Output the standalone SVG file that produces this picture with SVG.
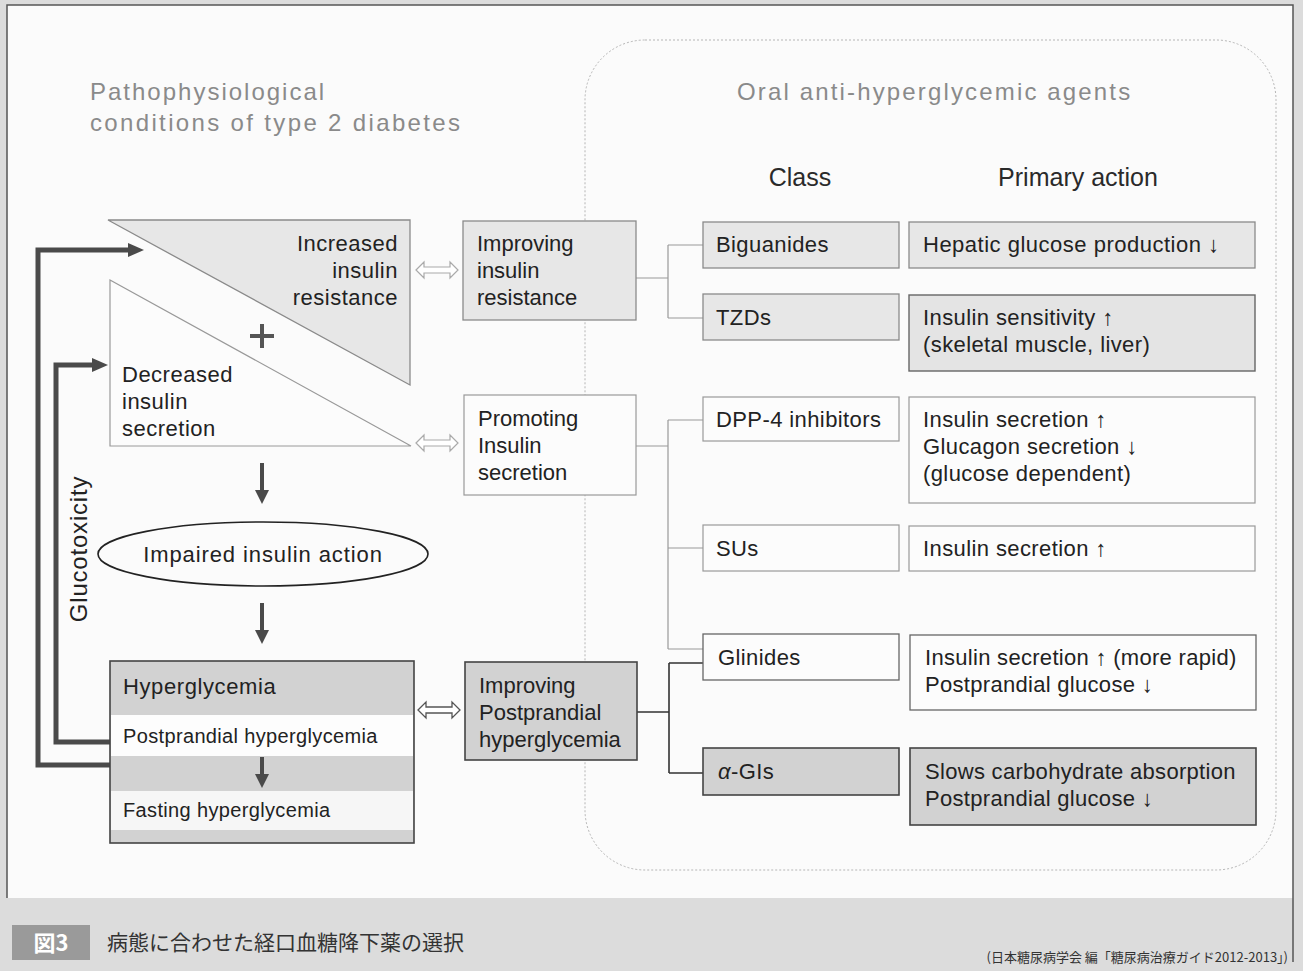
<svg xmlns="http://www.w3.org/2000/svg" width="1303" height="971" viewBox="0 0 1303 971">
<style>
.t{font-family:"Liberation Sans",Arial,sans-serif;fill:#222;font-size:22px}
.tt{font-family:"Liberation Sans",Arial,sans-serif;fill:#8a8a8a;font-size:24px}
.hd{font-family:"Liberation Sans",Arial,sans-serif;fill:#2a2a2a;font-size:25px}
.sm{font-family:"Liberation Sans",Arial,sans-serif;fill:#222;font-size:20px;letter-spacing:0.35px}
.jp{font-family:"Noto Sans CJK JP",sans-serif;fill:#333}
.lite{fill:#e7e7e7;stroke:#8a8a8a;stroke-width:1.3}
.wht{fill:#fcfcfc;stroke:#999;stroke-width:1.2}
.dark{fill:#d2d2d2;stroke:#444;stroke-width:1.6}
.gl{fill:none;stroke:#999;stroke-width:1.2}
.dl{fill:none;stroke:#333;stroke-width:1.6}
.thick{fill:none;stroke:#4a4a4a;stroke-width:5}
.dbl{fill:#fff;stroke:#aaa;stroke-width:1.2}
</style>
<defs>
<marker id="ah" markerUnits="userSpaceOnUse" markerWidth="18" markerHeight="14" refX="2" refY="7" orient="auto">
<path d="M0,0 L16,7 L0,14 Z" fill="#4a4a4a"/>
</marker>
<marker id="ah2" markerUnits="userSpaceOnUse" markerWidth="14" markerHeight="14" refX="2" refY="7" orient="auto">
<path d="M0,0 L14,7 L0,14 Z" fill="#4a4a4a"/>
</marker>
<path id="dbl" d="M0,0 L8,-8 L8,-3 L34,-3 L34,-8 L42,0 L34,8 L34,3 L8,3 L8,8 Z"/>
</defs>

<!-- page -->
<rect x="0" y="0" width="1303" height="971" fill="#dcdcdc"/>
<rect x="7" y="5" width="1286" height="893" fill="#fbfbfb"/>
<path d="M7,898 V5 H1293 V962" fill="none" stroke="#555" stroke-width="1.5"/>

<!-- right panel -->
<rect x="585" y="40" width="691" height="830" rx="60" ry="60" fill="none" stroke="#b5b5b5" stroke-width="1" stroke-dasharray="2 2"/>

<!-- titles -->
<text class="tt" x="90" y="100" style="letter-spacing:2px">Pathophysiological</text>
<text class="tt" x="90" y="131" style="letter-spacing:2.35px">conditions of type 2 diabetes</text>
<text class="tt" x="737" y="100" style="letter-spacing:2.15px">Oral anti-hyperglycemic agents</text>
<text class="hd" x="800" y="186" text-anchor="middle">Class</text>
<text class="hd" x="1078" y="186" text-anchor="middle">Primary action</text>

<!-- connectors -->
<g id="connectors">
<path class="thick" d="M110,765 H38 V250 H130" marker-end="url(#ah)"/>
<path class="thick" d="M110,742 H56 V365 H94" marker-end="url(#ah)"/>
<path d="M262,463 V492" stroke="#4a4a4a" stroke-width="4" marker-end="url(#ah2)"/>
<path d="M262,603 V632" stroke="#4a4a4a" stroke-width="4" marker-end="url(#ah2)"/>
<use href="#dbl" x="416" y="270" class="dbl"/>
<use href="#dbl" x="416" y="443" class="dbl"/>
<use href="#dbl" x="418" y="710" fill="#fff" stroke="#555" stroke-width="1.3"/>
<path class="gl" d="M636,278 H668 M668,245 V318 M668,245 H703 M668,318 H703"/>
<path class="gl" d="M636,446 H668 M668,420 V649 M668,420 H703 M668,548 H703 M668,649 H703"/>
<path class="dl" d="M637,712 H669 M669,663 V773 M669,663 H703 M669,773 H703"/>
</g>

<!-- left nodes -->
<g id="increased-resistance">
<polygon points="108,220 410,220 410,385" class="lite"/>
<text class="t" x="398" y="251" text-anchor="end" style="letter-spacing:0.5px">Increased</text>
<text class="t" x="398" y="278" text-anchor="end" style="letter-spacing:0.5px">insulin</text>
<text class="t" x="398" y="305" text-anchor="end" style="letter-spacing:0.5px">resistance</text>
</g>
<g id="decreased-secretion">
<polygon points="110,280 110,446 411,446" class="wht"/>
<text class="t" x="122" y="382" style="letter-spacing:0.5px">Decreased</text>
<text class="t" x="122" y="409" style="letter-spacing:0.5px">insulin</text>
<text class="t" x="122" y="436" style="letter-spacing:0.5px">secretion</text>
</g>
<g id="plus">
<path d="M250,336 H274 M262,324 V348" stroke="#555" stroke-width="4"/>
</g>
<g id="impaired">
<ellipse cx="263" cy="554" rx="165" ry="32" fill="#fbfbfb" stroke="#222" stroke-width="1.6"/>
<text class="t" x="263" y="562" text-anchor="middle" style="letter-spacing:0.9px">Impaired insulin action</text>
</g>
<g id="glucotoxicity">
<text class="t" transform="translate(87,549) rotate(-90)" text-anchor="middle" style="font-size:24px;letter-spacing:0.8px">Glucotoxicity</text>
</g>
<g id="hyperglycemia">
<rect x="110" y="661" width="304" height="182" class="dark"/>
<rect x="111" y="715" width="302" height="41" fill="#fdfdfd"/>
<rect x="111" y="791" width="302" height="39" fill="#f6f6f6"/>
<text class="t" x="123" y="694" style="letter-spacing:0.6px">Hyperglycemia</text>
<text class="sm" x="123" y="743">Postprandial hyperglycemia</text>
<path d="M262,757 V776" stroke="#4a4a4a" stroke-width="4" marker-end="url(#ah2)"/>
<text class="sm" x="123" y="817">Fasting hyperglycemia</text>
</g>

<!-- middle nodes -->
<g id="improving-resistance">
<rect x="463" y="221" width="173" height="99" class="lite"/>
<text class="t" x="477" y="251">Improving</text>
<text class="t" x="477" y="278">insulin</text>
<text class="t" x="477" y="305">resistance</text>
</g>
<g id="promoting-secretion">
<rect x="464" y="395" width="172" height="100" class="wht"/>
<text class="t" x="478" y="426">Promoting</text>
<text class="t" x="478" y="453">Insulin</text>
<text class="t" x="478" y="480">secretion</text>
</g>
<g id="improving-postprandial">
<rect x="465" y="662" width="172" height="98" class="dark"/>
<text class="t" x="479" y="693">Improving</text>
<text class="t" x="479" y="720">Postprandial</text>
<text class="t" x="479" y="747">hyperglycemia</text>
</g>

<!-- class nodes -->
<g id="biguanides">
<rect x="703" y="222" width="196" height="46" class="lite"/>
<text class="t" x="716" y="252" style="letter-spacing:0.4px">Biguanides</text>
</g>
<g id="tzds">
<rect x="703" y="294" width="196" height="46" class="lite"/>
<text class="t" x="716" y="325" style="letter-spacing:0.4px">TZDs</text>
</g>
<g id="dpp4">
<rect x="703" y="397" width="196" height="44" class="wht"/>
<text class="t" x="716" y="427" style="letter-spacing:0.4px">DPP-4 inhibitors</text>
</g>
<g id="sus">
<rect x="703" y="525" width="196" height="46" class="wht"/>
<text class="t" x="716" y="556" style="letter-spacing:0.4px">SUs</text>
</g>
<g id="glinides">
<rect x="703" y="634" width="196" height="46" fill="#fcfcfc" stroke="#666" stroke-width="1.3"/>
<text class="t" x="718" y="665" style="letter-spacing:0.4px">Glinides</text>
</g>
<g id="agis">
<rect x="703" y="748" width="196" height="47" class="dark"/>
<text class="t" x="718" y="779" style="letter-spacing:0.4px"><tspan font-style="italic">α</tspan>-GIs</text>
</g>

<!-- action nodes -->
<g id="act-biguanides">
<rect x="909" y="222" width="346" height="46" class="lite"/>
<text class="t" x="923" y="252" style="letter-spacing:0.5px">Hepatic glucose production ↓</text>
</g>
<g id="act-tzds">
<rect x="909" y="295" width="346" height="76" fill="#e4e4e4" stroke="#666" stroke-width="1.4"/>
<text class="t" x="923" y="325" style="letter-spacing:0.4px">Insulin sensitivity ↑</text>
<text class="t" x="923" y="352" style="letter-spacing:0.4px">(skeletal muscle, liver)</text>
</g>
<g id="act-dpp4">
<rect x="909" y="397" width="346" height="106" class="wht"/>
<text class="t" x="923" y="427" style="letter-spacing:0.4px">Insulin secretion  ↑</text>
<text class="t" x="923" y="454" style="letter-spacing:0.4px">Glucagon secretion ↓</text>
<text class="t" x="923" y="481" style="letter-spacing:0.4px">(glucose dependent)</text>
</g>
<g id="act-sus">
<rect x="909" y="526" width="346" height="45" class="wht"/>
<text class="t" x="923" y="556" style="letter-spacing:0.4px">Insulin secretion ↑</text>
</g>
<g id="act-glinides">
<rect x="910" y="635" width="346" height="75" fill="#fcfcfc" stroke="#666" stroke-width="1.3"/>
<text class="t" x="925" y="665" style="letter-spacing:0.3px">Insulin secretion ↑ (more rapid)</text>
<text class="t" x="925" y="692" style="letter-spacing:0.3px">Postprandial glucose ↓</text>
</g>
<g id="act-agis">
<rect x="910" y="748" width="346" height="77" class="dark"/>
<text class="t" x="925" y="779" style="letter-spacing:0.3px">Slows carbohydrate absorption</text>
<text class="t" x="925" y="806" style="letter-spacing:0.3px">Postprandial glucose ↓</text>
</g>

<!-- caption -->
<g id="caption">
<rect x="12" y="925" width="78" height="35" fill="#9a9a9a"/>
<text class="jp" x="51" y="951" text-anchor="middle" style="font-size:22px;fill:#fff;font-weight:bold">図3</text>
<text class="jp" x="107" y="950" style="font-size:21px">病態に合わせた経口血糖降下薬の選択</text>
<text class="jp" x="1288" y="962" text-anchor="end" style="font-size:13px">(日本糖尿病学会 編「糖尿病治療ガイド2012-2013」)</text>
</g>
</svg>
